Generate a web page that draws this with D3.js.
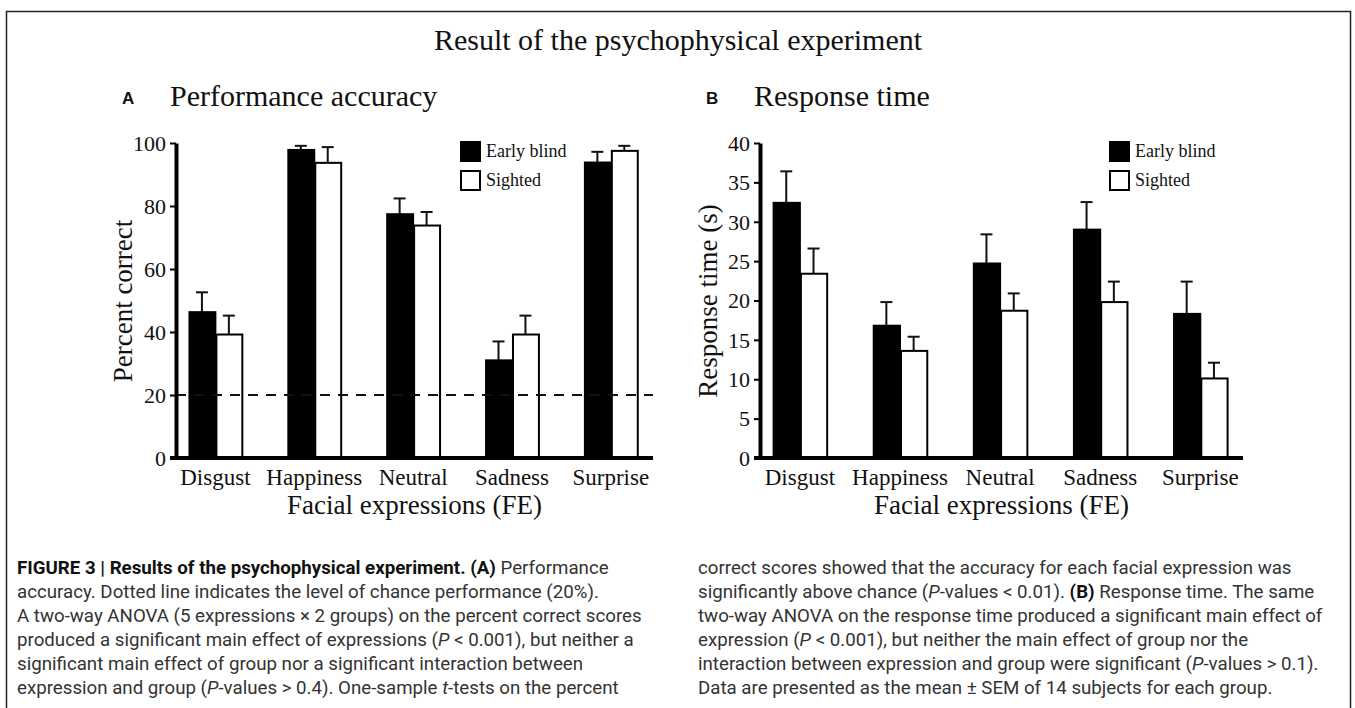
<!DOCTYPE html>
<html>
<head>
<meta charset="utf-8">
<script src="https://cdn.jsdelivr.net/npm/d3@7"></script>
<style>
  body { margin: 0; background: #fff; }
  svg { display: block; }
  .serif { font-family: "Liberation Serif", "Times New Roman", serif; fill: #111; }
  .cap { font-family: Roboto, "Liberation Sans", sans-serif; font-size: 18.7px; fill: #333; }
</style>
</head>
<body>
<svg id="fig" width="1355" height="708"></svg>
<script>
// data
const categories = ["Disgust", "Happiness", "Neutral", "Sadness", "Surprise"];
const groups = ["Early blind", "Sighted"];

const accBlind = [46.3, 97.8, 77.4, 31.0, 93.8];
const accBlindSem = [6.3, 1.3, 5.0, 6.0, 3.4];
const accSighted = [39.2, 93.7, 73.8, 39.2, 97.5];
const accSightedSem = [6.0, 5.0, 4.3, 6.0, 1.6];

const rtBlind = [32.4, 16.8, 24.7, 29.0, 18.3];
const rtBlindSem = [4.0, 3.0, 3.7, 3.5, 4.1];
const rtSighted = [23.4, 13.6, 18.7, 19.8, 10.1];
const rtSightedSem = [3.2, 1.8, 2.2, 2.6, 2.0];

const accTicks = [0, 20, 40, 60, 80, 100];
const rtTicks = [0, 5, 10, 15, 20, 25, 30, 35, 40];
const chanceLevel = 20;

const captionLeft = [
  [["b", "FIGURE 3 | Results of the psychophysical experiment. (A)"], ["", " Performance"]],
  [["", "accuracy. Dotted line indicates the level of chance performance (20%)."]],
  [["", "A two-way ANOVA (5 expressions \u00d7 2 groups) on the percent correct scores"]],
  [["", "produced a significant main effect of expressions ("], ["i", "P"], ["", " < 0.001), but neither a"]],
  [["", "significant main effect of group nor a significant interaction between"]],
  [["", "expression and group ("], ["i", "P"], ["", "-values > 0.4). One-sample "], ["i", "t"], ["", "-tests on the percent"]]
];
const captionRight = [
  [["", "correct scores showed that the accuracy for each facial expression was"]],
  [["", "significantly above chance ("], ["i", "P"], ["", "-values < 0.01). "], ["b", "(B)"], ["", " Response time. The same"]],
  [["", "two-way ANOVA on the response time produced a significant main effect of"]],
  [["", "expression ("], ["i", "P"], ["", " < 0.001), but neither the main effect of group nor the"]],
  [["", "interaction between expression and group were significant ("], ["i", "P"], ["", "-values > 0.1)."]],
  [["", "Data are presented as the mean \u00b1 SEM of 14 subjects for each group."]]
];

const svg = d3.select("#fig");

// outer frame (bottom edge runs off the page)
svg.append("rect")
  .attr("x", 6.5).attr("y", 11.5)
  .attr("width", 1344).attr("height", 720)
  .attr("fill", "none").attr("stroke", "#222").attr("stroke-width", 1.5);

svg.append("text").attr("class", "serif")
  .attr("x", 678).attr("y", 50)
  .attr("text-anchor", "middle").attr("font-size", 30)
  .text("Result of the psychophysical experiment");

function drawPanel(opt) {
  const y = d3.scaleLinear().domain([0, opt.max]).range([458, 143]);
  const x0 = d3.scaleBand().domain(categories)
    .range([opt.left, opt.right]).paddingInner(0.455).paddingOuter(0.14).align(0.45);
  const x1 = d3.scaleBand().domain(groups).range([0, x0.bandwidth()]);

  const g = svg.append("g");

  // panel letter + title
  g.append("text")
    .attr("x", opt.left - 54).attr("y", 104)
    .attr("font-family", "Liberation Sans, Arial, sans-serif")
    .attr("font-weight", "bold").attr("font-size", 17).attr("fill", "#111")
    .text(opt.letter);
  g.append("text").attr("class", "serif")
    .attr("x", opt.left - 6).attr("y", 106).attr("font-size", 30)
    .text(opt.title);

  const rows = categories.map((c, i) => ({
    cat: c,
    vals: [
      { grp: groups[0], v: opt.a[i], e: opt.ae[i] },
      { grp: groups[1], v: opt.b[i], e: opt.be[i] }
    ]
  }));

  const cg = g.selectAll(".cat").data(rows).enter().append("g")
    .attr("transform", d => `translate(${x0(d.cat)},0)`);

  const bars = cg.selectAll(".bar").data(d => d.vals).enter().append("g");

  // whiskers (upper SEM only)
  bars.append("line")
    .attr("x1", d => x1(d.grp) + x1.bandwidth() / 2)
    .attr("x2", d => x1(d.grp) + x1.bandwidth() / 2)
    .attr("y1", d => y(d.v)).attr("y2", d => y(d.v + d.e))
    .attr("stroke", "#111").attr("stroke-width", 2);
  bars.append("line")
    .attr("x1", d => x1(d.grp) + x1.bandwidth() / 2 - 6)
    .attr("x2", d => x1(d.grp) + x1.bandwidth() / 2 + 6)
    .attr("y1", d => y(d.v + d.e)).attr("y2", d => y(d.v + d.e))
    .attr("stroke", "#111").attr("stroke-width", 2);

  bars.append("rect")
    .attr("x", d => x1(d.grp) + 1)
    .attr("y", d => y(d.v))
    .attr("width", x1.bandwidth() - 1)
    .attr("height", d => y(0) - y(d.v))
    .attr("fill", d => d.grp === groups[0] ? "#000" : "#fff")
    .attr("stroke", "#000").attr("stroke-width", 2);

  // chance line, drawn over the bars
  if (opt.chance != null) {
    g.append("line")
      .attr("x1", opt.left).attr("x2", opt.right)
      .attr("y1", y(opt.chance)).attr("y2", y(opt.chance))
      .attr("stroke", "#111").attr("stroke-width", 2)
      .attr("stroke-dasharray", "10,8");
  }

  // y axis
  const ya = g.append("g")
    .attr("transform", `translate(${opt.left},0)`)
    .call(d3.axisLeft(y).tickValues(opt.ticks).tickSize(6).tickSizeOuter(0).tickPadding(4));
  ya.select(".domain").attr("stroke", "#000").attr("stroke-width", 4);
  ya.selectAll(".tick line").attr("stroke", "#000").attr("stroke-width", 2);
  ya.selectAll(".tick text")
    .attr("font-family", "Liberation Serif, Times New Roman, serif")
    .attr("font-size", 22).attr("fill", "#111").attr("dy", "0.33em");

  // x axis
  g.append("line")
    .attr("x1", opt.left - 6).attr("x2", opt.right)
    .attr("y1", y(0)).attr("y2", y(0))
    .attr("stroke", "#000").attr("stroke-width", 4);
  const xa = g.append("g")
    .attr("transform", `translate(0,${y(0)})`)
    .call(d3.axisBottom(x0).tickSize(0).tickPadding(10));
  xa.select(".domain").remove();
  xa.selectAll(".tick text")
    .attr("font-family", "Liberation Serif, Times New Roman, serif")
    .attr("font-size", 23).attr("fill", "#111").attr("dy", "0.72em");

  // axis titles
  g.append("text").attr("class", "serif")
    .attr("x", (opt.left + opt.right) / 2).attr("y", 514)
    .attr("text-anchor", "middle").attr("font-size", 27)
    .text("Facial expressions (FE)");
  g.append("text").attr("class", "serif")
    .attr("transform", `translate(${opt.ytx},301) rotate(-90)`)
    .attr("text-anchor", "middle").attr("font-size", 27)
    .text(opt.ytitle);

  // legend
  const lg = g.append("g").attr("transform", `translate(${opt.legX},142)`);
  groups.forEach((grp, i) => {
    lg.append("rect")
      .attr("x", 0).attr("y", i * 29)
      .attr("width", 19).attr("height", 19)
      .attr("fill", i === 0 ? "#000" : "#fff")
      .attr("stroke", "#000").attr("stroke-width", 2);
    lg.append("text").attr("class", "serif")
      .attr("x", 25).attr("y", i * 29 + 15).attr("font-size", 18)
      .text(grp);
  });
}

drawPanel({
  left: 176, right: 653, max: 100, ticks: accTicks,
  a: accBlind, ae: accBlindSem, b: accSighted, be: accSightedSem,
  chance: chanceLevel, letter: "A", title: "Performance accuracy",
  ytitle: "Percent correct", ytx: 132, legX: 461
});
drawPanel({
  left: 760, right: 1243, max: 40, ticks: rtTicks,
  a: rtBlind, ae: rtBlindSem, b: rtSighted, be: rtSightedSem,
  chance: null, letter: "B", title: "Response time",
  ytitle: "Response time (s)", ytx: 717, legX: 1110
});

// caption
function caption(lines, x) {
  lines.forEach((parts, i) => {
    const t = svg.append("text").attr("class", "cap")
      .attr("x", x).attr("y", 574 + i * 24);
    parts.forEach(([style, s]) => {
      const sp = t.append("tspan").text(s);
      if (style === "b") sp.attr("font-weight", "bold").attr("fill", "#111");
      if (style === "i") sp.attr("font-style", "italic");
    });
  });
}
caption(captionLeft, 17);
caption(captionRight, 698);
</script>
</body>
</html>
